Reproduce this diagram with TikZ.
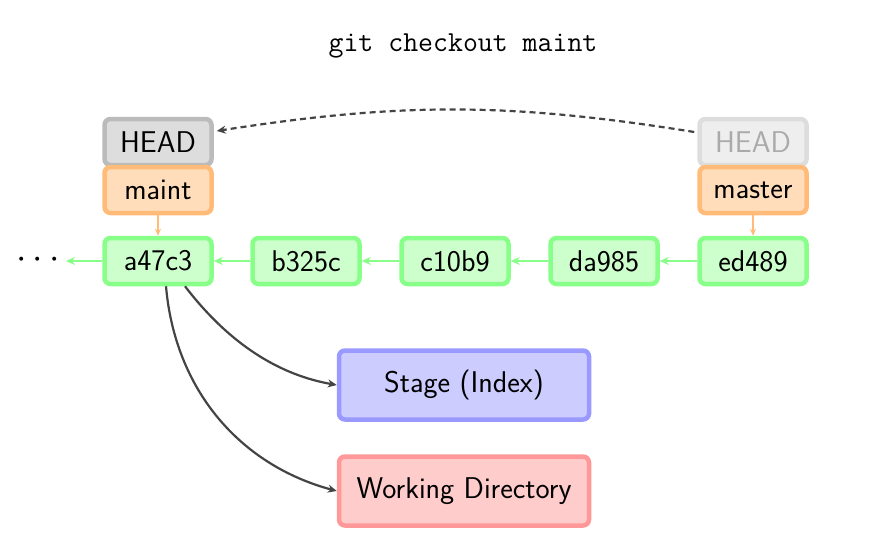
\documentclass[tikz,border=0pt]{standalone}
\usepackage{graphicx}
\usetikzlibrary{arrows.meta,positioning,calc}
\definecolor{cgreenF}{HTML}{CCFFCC}
\definecolor{cgreenD}{HTML}{88FF88}
\definecolor{corangeF}{HTML}{FFDDBB}
\definecolor{corangeD}{HTML}{FFBB77}
\definecolor{cgrayF}{HTML}{DDDDDD}
\definecolor{cgrayD}{HTML}{BBBBBB}
\definecolor{cfadeF}{HTML}{EEEEEE}
\definecolor{cfadeD}{HTML}{DDDDDD}
\definecolor{cfadeT}{HTML}{AAAAAA}
\definecolor{cblueF}{HTML}{CCCCFF}
\definecolor{cblueD}{HTML}{9999FF}
\definecolor{credF}{HTML}{FFCCCC}
\definecolor{credD}{HTML}{FF9999}
\definecolor{carrow}{HTML}{444444}
\begin{document}
\begin{tikzpicture}[x=1pt,y=-1pt,
  every node/.style={font=\sffamily\fontsize{30}{36}\selectfont, inner sep=0pt},
  box/.style={rounded corners=6pt, line width=4.5pt, minimum width=107pt, minimum height=46pt},
  commit/.style={box, fill=cgreenF, draw=cgreenD},
  branch/.style={box, fill=corangeF, draw=corangeD},
  headbox/.style={box, fill=cgrayF, draw=cgrayD},
  fadehead/.style={box, fill=cfadeF, draw=cfadeD, text=cfadeT},
  area/.style={rounded corners=6pt, line width=4.5pt, minimum width=250pt, minimum height=69pt},
  garrow/.style={draw=cgreenD, line width=2.2pt, -{Stealth[length=9pt,width=8pt]}},
  oarrow/.style={draw=corangeD, line width=1.6pt, -{Stealth[length=7pt,width=6pt]}},
  darrow/.style={draw=carrow, line width=2.2pt, -{Stealth[length=9pt,width=8pt]}}
]
\useasboundingbox (0,0) rectangle (881,538);
\node[font=\ttfamily\fontsize{29}{33}\selectfont] (title) at (463,46) {git checkout maint};

\node[headbox] (headL) at (158,142) {HEAD};
\node[branch] (maint) at (158,190) {maint};
\node[fadehead] (headR) at (753,142) {HEAD};
\node[branch] (master) at (753,190) {master};

\node[commit] (a) at (158,261) {a47c3};
\node[commit] (b) at (306,261) {b325c};
\node[commit] (c) at (455,261) {c10b9};
\node[commit] (d) at (604,261) {da985};
\node[commit] (e) at (753,261) {ed489};
\node (dots) at (38,260) {\scalebox{1.5}{$\cdots$}};
\coordinate (dotsend) at (66,261);

\node[area, fill=cblueF, draw=cblueD] (stage) at (464,385) {Stage (Index)};
\node[area, fill=credF, draw=credD] (work) at (464,491) {Working Directory};

\draw[garrow] (e.west) -- (d.east);
\draw[garrow] (d.west) -- (c.east);
\draw[garrow] (c.west) -- (b.east);
\draw[garrow] (b.west) -- (a.east);
\draw[garrow] (a.west) -- (dotsend);

\draw[oarrow] (maint.south) -- (a.north);
\draw[oarrow] (master.south) -- (e.north);

\draw[carrow, line width=2.2pt, dash pattern=on 6pt off 4pt, -{Stealth[length=9pt,width=8pt]}]
  ($(headR.west)+(-3,-10)$) to[bend right=9] ($(headL.east)+(3,-11)$);

\draw[darrow] ($(a.south)+(27,0)$) .. controls (230,345) and (280,375) .. (stage.west);
\draw[darrow] ($(a.south)+(8,0)$) .. controls (175,390) and (240,465) .. (work.west);
\end{tikzpicture}
\end{document}
